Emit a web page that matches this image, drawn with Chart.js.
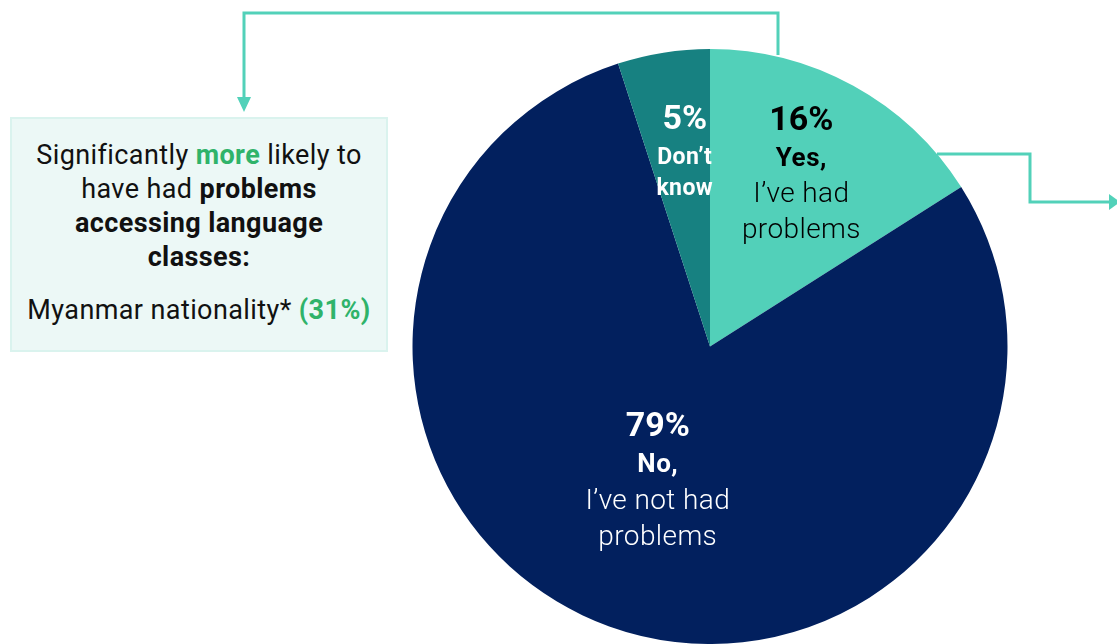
<!DOCTYPE html>
<html>
<head>
<meta charset="utf-8">
<script src="https://cdn.jsdelivr.net/npm/chart.js@4"></script>
<style>
  html, body { margin: 0; padding: 0; background: #fff; }
  #wrap { position: relative; width: 1117px; height: 644px; overflow: hidden; font-family: Roboto, "Noto Sans", sans-serif; }
  #myChart { position: absolute; left: 0; top: 0; }
  #links { position: absolute; left: 0; top: 0; }
  .note {
    position: absolute; left: 10px; top: 117px; width: 374px; height: 231px;
    background: #ecf8f6; border: 2px solid #daf3ee;
    text-align: center; color: #111; font-size: 27px; line-height: 34px; letter-spacing: 0.4px;
  }
  .note p { margin: 0; }
  .note .lead { padding-top: 19px; }
  .note .sub { margin-top: 19px; }
  .note b { font-weight: 700; }
  .note .green { color: #2fb36a; }
</style>
</head>
<body>
<div id="wrap">
  <canvas id="myChart" width="1117" height="644"></canvas>
  <svg id="links" width="1117" height="644">
    <polyline points="778,55 778,13 244,13 244,100" fill="none" stroke="#52d1b9" stroke-width="3"/>
    <polygon points="237,97 251,97 244,112" fill="#52d1b9"/>
    <polyline points="937,154 1030,154 1030,202 1110,202" fill="none" stroke="#52d1b9" stroke-width="3"/>
    <polygon points="1109,194 1109,210 1120,202" fill="#52d1b9"/>
  </svg>
  <div class="note">
    <p class="lead">Significantly <b class="green">more</b> likely to<br>have had <b>problems<br>accessing language<br>classes:</b></p>
    <p class="sub">Myanmar nationality* <b class="green">(31%)</b></p>
  </div>
</div>
<script>
// answers, clockwise from 12 o'clock
const answers = ['Yes', 'No', "Don't know"]
const shares = [16, 79, 5]
const colours = ['#52d0b9', '#02205e', '#178181']

// text under each percentage
const answerHead = ['Yes,', 'No,', 'Don\u2019t']
const answerRest = [['I\u2019ve had', 'problems'], ['I\u2019ve not had', 'problems'], ['know']]
const textColours = ['#000', '#fff', '#fff']
const labelRadius = [0.65, 0.49, 0.65]
const labelTurn = [-0.6, 1.2, 1.5] // degrees nudged off the middle of the slice

const sliceLabels = {
    id: 'sliceLabels',
    afterDatasetsDraw(chart) {
        const ctx = chart.ctx
        const arcs = chart.getDatasetMeta(0).data
        arcs.forEach((arc, i) => {
            const mid = (arc.startAngle + arc.endAngle) / 2 + labelTurn[i] * Math.PI / 180
            const r = arc.outerRadius * labelRadius[i]
            const x = arc.x + Math.cos(mid) * r
            const y = arc.y + Math.sin(mid) * r
            const small = i === 2
            let lines = [
                { t: shares[i] + '%', f: 'bold 34px Roboto', h: 0, s: '0px' },
                { t: answerHead[i], f: (small ? 'bold 23px' : 'bold 26px') + ' Roboto', h: 38, s: '0.5px' }
            ]
            answerRest[i].forEach(t => {
                lines.push({ t: t, f: small ? 'bold 23px Roboto' : '300 28px Roboto', h: small ? 31 : 36, s: '0.4px' })
            })
            const total = lines.reduce((s, l) => s + l.h, 0)
            let yy = y - total / 2
            ctx.save()
            ctx.fillStyle = textColours[i]
            ctx.textAlign = 'center'
            ctx.textBaseline = 'middle'
            lines.forEach(l => {
                yy += l.h
                ctx.font = l.f
                ctx.letterSpacing = l.s
                ctx.fillText(l.t, x, yy)
            })
            ctx.restore()
        })
    }
}

var ctx = document.getElementById('myChart')

var myChart = new Chart(ctx, {
    type: 'pie',
    data: {
        labels: answers,
        datasets: [{
            data: shares,
            backgroundColor: colours,
            borderWidth: 0
        }]
    },
    options: {
        responsive: false,
        animation: false,
        layout: { padding: { left: 412, right: 109, top: 49, bottom: 0 } },
        plugins: {
            legend: { display: false },
            tooltip: { enabled: false }
        }
    },
    plugins: [sliceLabels]
})
</script>
</body>
</html>
